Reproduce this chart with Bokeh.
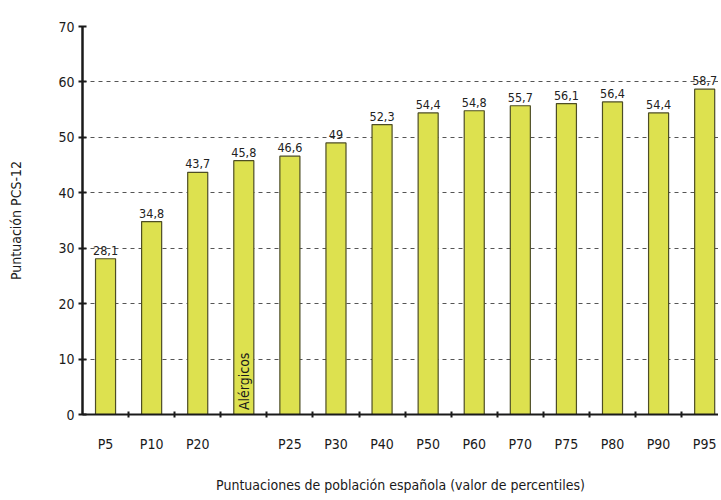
import math
from bokeh.plotting import figure
from bokeh.models import ColumnDataSource, FixedTicker, Range1d
from bokeh.core.properties import value
from bokeh.embed import file_html
from bokeh.resources import INLINE

categories = ["P5", "P10", "P20", "Alérgicos", "P25", "P30", "P40", "P50",
              "P60", "P70", "P75", "P80", "P90", "P95"]
tick_labels = ["P5", "P10", "P20", "", "P25", "P30", "P40", "P50",
               "P60", "P70", "P75", "P80", "P90", "P95"]
scores = [28.1, 34.8, 43.7, 45.8, 46.6, 49, 52.3, 54.4, 54.8, 55.7, 56.1, 56.4, 54.4, 58.7]
y_ticks = [0, 10, 20, 30, 40, 50, 60, 70]

FONT = "DejaVu Sans Condensed"

xs = list(range(len(categories)))
labels = [f"{v:g}".replace(".", ",") for v in scores]
src = ColumnDataSource(dict(x=xs, y=scores, lab=labels, cat=categories))

p = figure(width=718, height=496, output_backend="svg", toolbar_location=None,
           x_range=Range1d(-0.5, 13.3), y_range=Range1d(0, 70),
           min_border_left=82, min_border_right=0, min_border_top=26,
           min_border_bottom=82)
p.outline_line_color = None
p.background_fill_color = "white"
p.border_fill_color = "white"

p.vbar(x="x", top="y", width=0.435, source=src, fill_color="#dde14f",
       line_color="#4d4d25", line_width=1.2)

p.text(x="x", y="y", text="lab", source=src, y_offset=-4, text_align="center",
       text_baseline="bottom", text_font=value(FONT), text_font_size="12.5px",
       text_color="#222222")

p.text(x=[xs[3]], y=[0.8], text=[categories[3]], angle=math.pi / 2,
       text_align="left", text_baseline="middle", text_font=value(FONT),
       text_font_size="14px", text_color="#1a1a1a")

# x axis
p.xaxis.ticker = FixedTicker(ticks=xs, minor_ticks=[i + 0.5 for i in xs[:-1]])
p.xaxis.major_label_overrides = {i: t for i, t in zip(xs, tick_labels)}
p.xaxis.major_tick_line_color = None
p.xaxis.major_tick_in = 0
p.xaxis.major_tick_out = 0
p.xaxis.minor_tick_in = 3
p.xaxis.minor_tick_out = 3
p.xaxis.minor_tick_line_color = "#1a1a1a"
p.xaxis.minor_tick_line_width = 2
p.xaxis.axis_line_color = "#1a1a1a"
p.xaxis.axis_line_width = 2
p.xaxis.major_label_standoff = 18
p.xaxis.major_label_text_font = FONT
p.xaxis.major_label_text_font_size = "14px"
p.xaxis.major_label_text_color = "#1a1a1a"
p.xaxis.axis_label = "Puntuaciones de población española (valor de percentiles)"
p.xaxis.axis_label_standoff = 22
p.xaxis.axis_label_text_font = FONT
p.xaxis.axis_label_text_font_size = "14px"
p.xaxis.axis_label_text_font_style = "normal"
p.xaxis.axis_label_text_color = "#1a1a1a"

# y axis
p.yaxis.ticker = FixedTicker(ticks=y_ticks)
p.yaxis.minor_tick_line_color = None
p.yaxis.major_tick_in = 4
p.yaxis.major_tick_out = 4
p.yaxis.major_tick_line_width = 2
p.yaxis.major_tick_line_color = "#1a1a1a"
p.yaxis.axis_line_color = "#1a1a1a"
p.yaxis.axis_line_width = 2.5
p.yaxis.major_label_standoff = 4
p.yaxis.major_label_text_font = FONT
p.yaxis.major_label_text_font_size = "14px"
p.yaxis.major_label_text_color = "#1a1a1a"
p.yaxis.axis_label = "Puntuación PCS-12"
p.yaxis.axis_label_standoff = 31
p.yaxis.axis_label_text_font = FONT
p.yaxis.axis_label_text_font_size = "14px"
p.yaxis.axis_label_text_font_style = "normal"
p.yaxis.axis_label_text_color = "#1a1a1a"

p.xgrid.grid_line_color = None
p.ygrid.grid_line_color = "#555555"
p.ygrid.grid_line_dash = "4 4"
p.ygrid.grid_line_width = 1

open("out.html", "w").write(file_html(p, INLINE))
